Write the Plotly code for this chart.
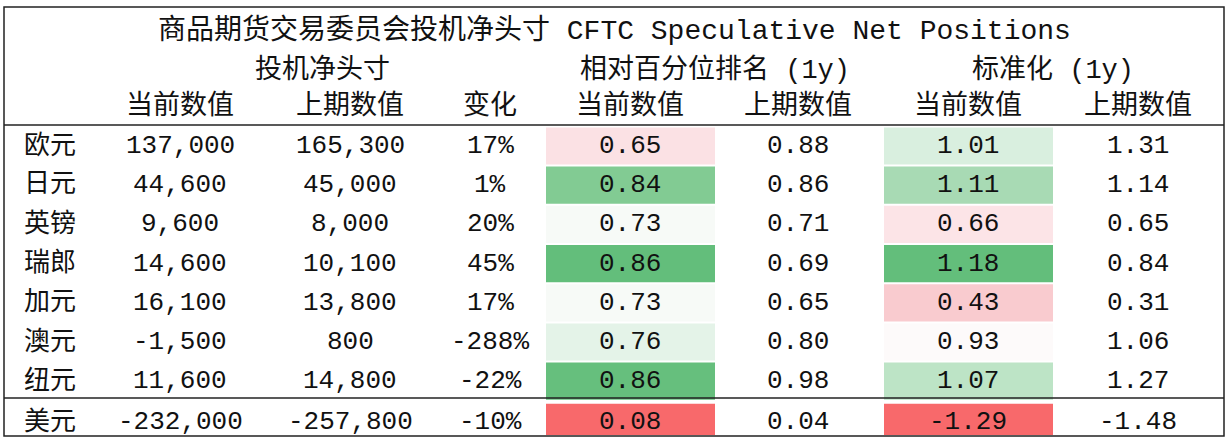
import plotly.graph_objects as go

currencies = ["欧元", "日元", "英镑", "瑞郎", "加元", "澳元", "纽元", "美元"]
net_cur = ["137,000", "44,600", "9,600", "14,600", "16,100", "-1,500", "11,600", "-232,000"]
net_prev = ["165,300", "45,000", "8,000", "10,100", "13,800", "800", "14,800", "-257,800"]
change = ["17%", "1%", "20%", "45%", "17%", "-288%", "-22%", "-10%"]
pct_cur = ["0.65", "0.84", "0.73", "0.86", "0.73", "0.76", "0.86", "0.08"]
pct_prev = ["0.88", "0.86", "0.71", "0.69", "0.65", "0.80", "0.98", "0.04"]
z_cur = ["1.01", "1.11", "0.66", "1.18", "0.43", "0.93", "1.07", "-1.29"]
z_prev = ["1.31", "1.14", "0.65", "0.84", "0.31", "1.06", "1.27", "-1.48"]
pct_colors = ["#fbe1e4", "#82cb93", "#f7faf7", "#63be7b", "#f7faf7", "#e4f3e8", "#66bf7d", "#f8696b"]
z_colors = ["#d9efdf", "#a8dab4", "#fce4e7", "#63be7b", "#f9cbcf", "#fdfafa", "#bde4c6", "#f8696b"]

title = "商品期货交易委员会投机净头寸 CFTC Speculative Net Positions"
groups = ["投机净头寸", "相对百分位排名 (1y)", "标准化 (1y)"]
group_x = [322, 715, 1053]
sub_headers = ["当前数值", "上期数值", "变化", "当前数值", "上期数值", "当前数值", "上期数值"]

col_x = [50, 180, 350, 490, 630, 798, 968, 1138]
row_y0, row_h = 146, 39.2
FONT = "Liberation Mono, Noto Sans CJK SC"

fig = go.Figure()
fig.add_trace(go.Scatter(x=[0, 1228], y=[0, 440], mode="markers", marker=dict(opacity=0), hoverinfo="skip"))
shapes, ann = [], []

def txt(x, y, t, size=26):
    ann.append(dict(x=x, y=y, text=t, showarrow=False, xanchor="center", yanchor="middle",
                    font=dict(family=FONT, size=size, color="#111")))

for i in range(len(currencies)):
    yc = row_y0 + i * row_h + (2 if i == 7 else 0)
    y0 = yc - row_h / 2 + 1
    y1 = min(yc + row_h / 2 - 1, 435)
    for (x0, x1), cols in (((546, 715), pct_colors), ((884, 1053), z_colors)):
        shapes.append(dict(type="rect", x0=x0, x1=x1, y0=y0, y1=y1,
                           fillcolor=cols[i], line=dict(width=0), layer="below"))
    row = [currencies[i], net_cur[i], net_prev[i], change[i], pct_cur[i], pct_prev[i], z_cur[i], z_prev[i]]
    for x, t in zip(col_x, row):
        txt(x, yc, t)

txt(614, 30, title, 28)
for x, g in zip(group_x, groups):
    txt(x, 70, g, 27)
for x, h in zip(col_x[1:], sub_headers):
    txt(x, 106, h, 27)

shapes.append(dict(type="rect", x0=4, x1=1224, y0=7, y1=436, line=dict(color="#222", width=1.5)))
for yy in (125, 398):
    shapes.append(dict(type="line", x0=4, x1=1224, y0=yy, y1=yy, line=dict(color="#222", width=1.5)))

fig.update_layout(width=1228, height=440, margin=dict(l=0, r=0, t=0, b=0),
                  paper_bgcolor="white", plot_bgcolor="white", showlegend=False,
                  xaxis=dict(range=[0, 1228], visible=False, fixedrange=True),
                  yaxis=dict(range=[440, 0], visible=False, fixedrange=True),
                  shapes=shapes, annotations=ann)
fig.write_html("out.html", config={"displayModeBar": False},
               post_script="document.body.style.margin='0';document.body.style.overflow='hidden';")
